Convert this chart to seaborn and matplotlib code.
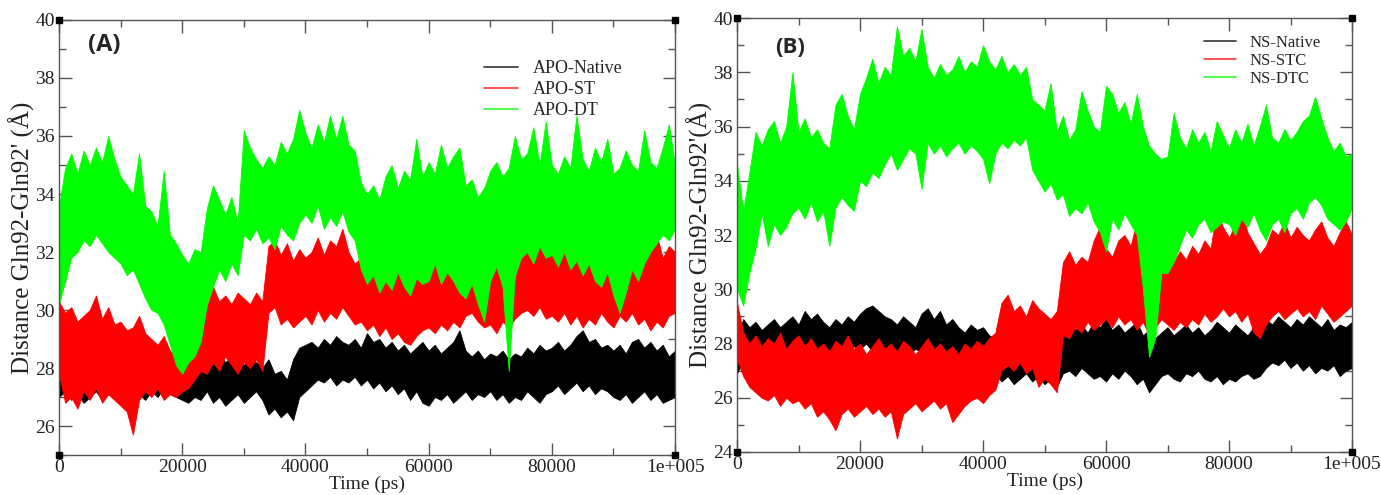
import numpy as np
import matplotlib
matplotlib.use("Agg")
import matplotlib.pyplot as plt
import seaborn as sns

# ---------------- data (1000 ps grid) ----------------
time_ps = np.arange(0, 100001, 1000)

# Panel A: upper / lower envelope of each noisy trace
apo_native_hi = [28.6, 28.2, 28.4, 28.0, 28.3, 28.1, 28.4, 28.2, 28.5, 28.3,
                 28.2, 28.4, 28.1, 28.3, 28.0, 27.9, 28.1, 27.8, 27.9, 27.7,
                 27.8, 28.0, 28.4, 28.9, 28.7, 28.3, 28.5, 28.2, 28.4, 28.3,
                 28.1, 28.4, 28.2, 28.0, 28.3, 27.8, 27.9, 27.6, 28.3, 28.7,
                 28.8, 28.9, 28.7, 29.0, 28.8, 29.1, 28.9, 28.8, 29.0, 28.7,
                 29.2, 28.9, 29.0, 28.7, 28.9, 28.6, 28.8, 28.5, 28.7, 28.9,
                 28.6, 28.8, 28.5, 28.7, 28.9, 29.3, 28.6, 28.4, 28.6, 28.3,
                 28.5, 28.4, 28.6, 28.3, 28.5, 28.4, 28.7, 28.5, 28.8, 28.6,
                 28.7, 28.9, 28.6, 28.8, 29.1, 29.3, 28.9, 29.0, 28.7, 28.8,
                 28.6, 28.8, 28.5, 28.9, 29.0, 28.7, 28.9, 28.6, 28.8, 28.4,
                 28.6]
apo_native_lo = [27.0, 27.2, 26.9, 27.1, 26.8, 27.0, 27.2, 26.9, 27.1, 27.3,
                 27.2, 27.0, 27.3, 27.1, 26.9, 27.2, 27.0, 27.3, 27.1, 27.0,
                 26.9, 26.8, 27.0, 26.9, 27.2, 26.8, 27.0, 26.7, 26.9, 27.1,
                 26.8, 27.0, 27.2, 26.9, 26.4, 26.6, 26.3, 26.5, 26.2, 27.0,
                 27.2, 27.4, 27.6, 27.5, 27.7, 27.4, 27.6, 27.5, 27.7, 27.4,
                 27.6, 27.3, 27.5, 27.2, 27.4, 27.1, 27.3, 26.9, 27.2, 26.8,
                 26.7, 27.0, 26.9, 27.1, 26.8, 27.0, 27.2, 26.9, 27.1, 27.0,
                 27.2, 26.9, 27.1, 26.8, 27.0, 26.9, 27.2, 27.0, 26.8, 27.1,
                 27.2, 27.4, 27.1, 27.3, 27.5, 27.2, 27.4, 27.1, 27.3, 27.2,
                 27.0, 26.9, 27.1, 26.8, 27.0, 27.2, 26.9, 27.1, 26.8, 26.9,
                 27.0]
apo_st_hi = [30.3, 29.9, 30.1, 29.6, 29.8, 30.0, 30.5, 29.7, 30.1, 29.5,
             29.6, 29.3, 29.4, 29.8, 29.2, 29.0, 28.8, 29.1, 28.6, 28.4,
             28.3, 28.7, 28.5, 29.0, 30.1, 30.8, 30.3, 30.5, 30.2, 30.6,
             30.4, 30.2, 30.6, 30.3, 32.2, 32.4, 31.9, 32.3, 31.7, 32.1,
             31.8, 32.0, 32.5, 31.9, 32.4, 32.2, 32.8, 32.0, 31.6, 31.8,
             31.7, 31.5, 31.9, 31.2, 31.6, 31.3, 31.5, 31.0, 31.4, 31.2,
             31.6, 31.9, 31.5, 31.7, 31.4, 32.1, 31.8, 32.3, 31.9, 31.6,
             31.2, 31.5, 31.0, 31.3, 31.1, 31.8, 32.0, 31.7, 32.2, 31.9,
             32.0, 31.6, 32.3, 31.8, 32.1, 31.5, 31.9, 32.2, 31.6, 31.4,
             31.3, 31.7, 31.2, 31.5, 31.9, 32.3, 32.0, 32.6, 31.8, 32.2,
             32.0]
apo_st_lo = [27.8, 26.8, 27.0, 26.6, 27.2, 26.9, 27.3, 26.8, 27.1, 26.9,
             26.7, 26.5, 25.7, 26.9, 27.2, 27.0, 27.3, 26.9, 27.1, 27.0,
             27.2, 27.3, 27.6, 27.9, 27.8, 28.2, 27.9, 28.4, 28.1, 27.8,
             28.2, 28.0, 28.3, 27.9, 29.9, 30.1, 29.5, 29.7, 29.4, 29.6,
             29.8, 29.5, 30.0, 29.6, 29.9, 29.7, 30.1, 29.8, 29.5, 29.6,
             29.3, 29.5, 29.1, 29.4, 29.0, 29.2, 28.9, 28.8, 29.1, 29.3,
             29.4, 29.2, 29.5, 29.3, 29.6, 29.4, 29.8, 29.9, 29.6, 29.4,
             29.5, 29.2, 29.6, 29.4, 29.7, 29.9, 30.0, 29.8, 30.1, 29.7,
             29.8, 29.6, 29.9, 29.5, 29.8, 29.4, 29.7, 29.5, 29.9, 29.6,
             29.4, 29.8, 29.6, 29.9, 29.5, 29.7, 29.3, 29.6, 29.4, 29.8,
             29.9]
apo_dt_hi = [33.6, 34.9, 35.4, 34.7, 35.5, 35.0, 35.6, 35.1, 36.0, 35.2,
             34.6, 34.3, 34.0, 35.4, 33.6, 33.4, 32.9, 34.8, 32.6, 32.3,
             31.9, 31.6, 32.1, 32.0, 33.5, 34.3, 33.8, 33.3, 33.9, 33.0,
             36.2, 35.6, 35.2, 34.9, 35.3, 35.0, 35.8, 35.4, 35.9, 36.9,
             36.1, 35.6, 36.4, 35.8, 36.7, 35.9, 36.7, 35.7, 35.5, 34.4,
             34.0, 34.3, 33.8, 34.6, 35.0, 34.2, 34.8, 34.5, 35.9, 34.6,
             35.1, 34.7, 35.7, 34.9, 35.3, 35.6, 34.3, 34.5, 33.9, 34.2,
             34.8, 35.1, 34.6, 34.9, 36.0, 35.2, 35.4, 36.3, 35.0, 36.5,
             35.0, 34.7, 35.3, 34.9, 36.7, 35.2, 34.8, 35.6, 35.1, 35.9,
             34.7, 34.9, 35.5, 35.0, 34.8, 36.2, 35.1, 34.9, 35.6, 36.4,
             35.0]
apo_dt_lo = [30.2, 31.0, 31.8, 32.0, 32.4, 32.2, 32.6, 32.3, 32.0, 31.8,
             31.6, 31.2, 31.4, 30.9, 30.4, 30.0, 29.9, 29.5, 28.8, 28.1,
             27.8, 28.2, 28.4, 28.9, 30.2, 30.8, 31.4, 31.0, 31.6, 31.2,
             32.6, 32.4, 32.8, 32.3, 32.5, 32.1, 32.9, 32.6, 32.4, 33.0,
             33.3, 33.0, 33.6, 32.8, 33.2, 32.9, 33.4, 32.7, 32.4, 31.4,
             30.9, 31.2, 30.6, 31.0, 30.7, 31.3, 30.8, 30.5, 31.1, 30.9,
             31.0, 31.6, 30.9, 31.3, 31.0, 30.6, 30.4, 30.9, 30.2, 29.6,
             31.0, 31.5, 30.8, 27.9, 31.2, 31.8, 32.0, 31.6, 32.2, 31.8,
             31.9, 31.5, 32.0, 31.4, 31.7, 31.2, 31.6, 31.0, 30.8, 31.3,
             30.5, 29.9, 30.6, 31.4, 31.0, 31.6, 32.0, 32.3, 32.6, 32.4,
             32.8]

# Panel B
ns_native_hi = [28.2, 28.9, 28.6, 28.8, 28.5, 28.7, 28.9, 28.6, 28.8, 29.0,
                28.7, 29.2, 28.9, 29.1, 28.8, 28.6, 28.9, 28.7, 29.0, 28.8,
                29.1, 29.3, 29.4, 29.2, 29.0, 28.9, 28.7, 29.0, 28.8, 28.6,
                29.1, 29.3, 28.9, 29.2, 28.7, 28.9, 28.6, 28.4, 28.7, 28.5,
                28.6, 28.3, 28.2, 27.9, 28.0, 27.8, 28.1, 27.9, 28.0, 28.2,
                27.9, 28.1, 27.8, 28.6, 28.9, 28.5, 28.7, 28.4, 28.8, 28.6,
                28.9, 28.5, 28.7, 28.4, 28.6, 28.8, 28.3, 28.5, 28.2, 28.4,
                28.6, 28.3, 28.5, 28.7, 28.4, 28.6, 28.3, 28.5, 28.8, 28.6,
                28.4, 28.7, 28.5, 28.3, 28.6, 28.4, 28.9, 28.7, 29.0, 28.8,
                28.6, 28.9, 28.7, 29.0, 28.8, 28.6, 28.9, 28.5, 28.7, 28.6,
                28.8]
ns_native_lo = [26.9, 27.4, 27.6, 27.5, 27.7, 27.4, 27.6, 27.5, 27.7, 27.8,
                27.6, 27.8, 27.5, 27.7, 27.9, 27.6, 27.8, 27.5, 27.7, 27.9,
                27.8, 28.0, 27.7, 27.9, 27.6, 27.8, 27.5, 27.7, 27.6, 27.8,
                27.7, 27.9, 27.6, 27.8, 27.5, 27.4, 27.6, 27.3, 27.5, 27.4,
                27.3, 27.1, 26.9, 26.6, 26.8, 26.5, 26.7, 26.9, 26.6, 26.8,
                26.5, 26.7, 26.4, 26.9, 27.0, 26.8, 27.1, 26.9, 26.7, 26.8,
                26.6, 26.9, 26.7, 27.0, 26.8, 26.5, 26.7, 26.2, 26.5, 26.8,
                26.9, 26.7, 26.6, 26.9, 26.8, 27.0, 26.7, 26.6, 26.8, 26.5,
                26.7, 26.6, 26.8, 26.9, 26.7, 26.8, 27.1, 27.3, 27.2, 27.4,
                27.1, 27.3, 27.0, 27.2, 26.9, 27.1, 27.0, 27.2, 26.8, 27.0,
                27.1]
ns_stc_hi = [29.5, 28.4, 28.0, 28.3, 27.9, 28.2, 28.0, 28.4, 27.8, 28.1,
             28.3, 27.9, 28.2, 27.8, 28.0, 27.7, 28.1, 27.9, 28.3, 27.8,
             28.0, 27.6, 27.9, 28.2, 27.8, 28.0, 27.7, 28.1, 27.9, 27.6,
             27.9, 28.2, 27.8, 28.0, 27.7, 27.9, 27.6, 28.0, 27.8, 28.1,
             27.9, 28.2, 28.4, 29.5, 29.8, 29.2, 29.4, 29.0, 29.6, 29.3,
             29.1, 28.9, 29.2, 31.0, 31.4, 30.9, 31.2, 31.0, 31.8, 32.3,
             31.5, 31.2, 31.8, 32.0, 31.6, 32.5, 31.4, 31.2, 31.0, 30.9,
             31.3, 31.0, 31.4, 31.1, 31.6, 31.3, 31.8, 31.5, 32.9, 32.3,
             31.9, 32.4, 32.9, 32.1, 31.7, 31.3, 31.6, 32.2, 32.0, 32.5,
             31.9, 32.3, 32.0, 31.8, 32.2, 32.5, 31.9, 31.6, 32.1, 32.5,
             32.0]
ns_stc_lo = [27.4, 26.8, 26.4, 26.2, 26.0, 25.9, 26.1, 25.7, 26.0, 25.8,
             25.9, 25.6, 25.8, 25.3, 25.5, 25.2, 24.8, 25.4, 25.6, 25.3,
             25.5, 25.7, 25.4, 25.6, 25.3, 25.5, 24.5, 25.4, 25.6, 25.8,
             25.5, 25.7, 25.9, 25.6, 25.8, 25.1, 25.4, 25.7, 25.9, 26.0,
             25.8, 26.1, 26.3, 27.0, 27.2, 27.0, 27.3, 26.9, 27.1, 26.4,
             26.7, 26.5, 26.2, 28.3, 28.2, 28.6, 28.4, 28.8, 28.5, 28.7,
             28.9, 28.6, 29.0, 28.7, 28.9, 28.5, 28.8, 28.3, 28.6, 28.9,
             28.7, 28.5, 28.8, 28.6, 28.9, 28.7, 29.1, 28.8, 29.0, 29.3,
             29.0, 29.2, 28.8, 29.1, 28.4, 28.2, 28.7, 29.0, 29.2, 28.9,
             29.1, 29.3, 29.0, 29.2, 28.9, 29.4, 29.1, 28.8, 29.0, 29.2,
             29.4]
ns_dtc_hi = [34.6, 32.9, 34.3, 35.8, 35.3, 35.9, 36.2, 35.4, 36.0, 38.0,
             35.8, 36.3, 35.6, 35.9, 35.4, 35.2, 36.8, 37.2, 36.4, 35.9,
             37.2, 37.8, 38.5, 37.6, 38.2, 37.9, 39.7, 38.6, 38.9, 38.4,
             39.6, 38.2, 37.8, 38.3, 37.9, 38.1, 38.6, 38.0, 38.4, 38.2,
             39.0, 38.4, 38.1, 38.6, 38.0, 38.3, 37.9, 38.2, 37.0, 36.8,
             36.6, 37.6, 35.8, 36.4, 35.5, 35.9, 37.3, 36.6, 36.0, 35.8,
             37.5, 37.2, 36.5, 36.9, 36.1, 37.2, 36.0, 35.3, 35.0, 34.8,
             34.9, 36.5, 35.6, 35.2, 35.9, 35.4, 35.8, 35.1, 36.2, 35.7,
             35.2, 35.9, 35.4, 36.1, 35.3, 36.0, 36.8, 35.6, 35.4, 35.9,
             35.5, 35.8, 36.2, 36.4, 37.1, 36.3, 35.6, 35.1, 35.4, 34.9,
             35.0]
ns_dtc_lo = [30.0, 29.4, 30.6, 31.5, 32.8, 31.6, 32.4, 32.0, 32.3, 32.8,
             33.0, 32.6, 33.2, 32.5, 32.9, 31.6, 33.0, 33.4, 33.1, 32.9,
             34.0, 33.8, 34.3, 34.1, 34.6, 35.0, 34.4, 34.8, 35.2, 35.0,
             33.7, 35.4, 35.0, 35.3, 34.9, 35.2, 35.4, 35.0, 35.3, 35.1,
             34.8, 33.9, 35.0, 35.4, 35.2, 35.5, 35.3, 35.6, 34.4, 34.0,
             33.6, 33.9, 33.3, 33.5, 32.7, 33.0, 32.8, 33.2, 32.5, 32.1,
             31.4, 32.6, 32.2, 32.8, 32.4, 32.0, 30.0, 27.5, 28.2, 30.6,
             30.6, 31.0, 31.6, 32.2, 31.9, 32.4, 32.6, 32.1, 32.3, 32.5,
             32.4, 32.0, 32.6, 32.3, 32.8, 32.2, 31.8, 32.4, 32.6, 32.1,
             32.8, 33.0, 32.6, 33.2, 33.4, 33.1, 32.6, 32.4, 32.2, 32.5,
             33.0]

labels_a = ["APO-Native", "APO-ST", "APO-DT"]
labels_b = ["NS-Native", "NS-STC", "NS-DTC"]
colors = ["#000000", "#ff0000", "#00ff00"]
xticks = [0, 20000, 40000, 60000, 80000, 100000]
xticklabels = ["0", "20000", "40000", "60000", "80000", "1e+005"]

# ---------------- style ----------------
sns.set_style("white")
plt.rcParams["font.family"] = ["Liberation Serif", "DejaVu Serif"]

fig = plt.figure(figsize=(13.81, 4.95), dpi=100)
ax_a = fig.add_axes([0.0427, 0.0808, 0.4461, 0.8788])
ax_b = fig.add_axes([0.5337, 0.0869, 0.4453, 0.8767])


def draw(ax, series, labels, ylim, ylabel, tag, leg_anchor, leg_fs, leg_sp):
    for k, ((hi, lo), lab, col) in enumerate(zip(series, labels, colors)):
        x = np.concatenate([time_ps, time_ps])
        y = np.concatenate([hi, lo])
        n_lines, n_coll = len(ax.lines), len(ax.collections)
        # band spanning the min..max of the two envelope readings at each time
        sns.lineplot(x=x, y=y, ax=ax, color=col, lw=0.6, estimator="mean",
                     errorbar=("pi", 100), err_kws={"alpha": 1.0, "lw": 0.6,
                                                     "edgecolor": col},
                     label=lab)
        for art in ax.lines[n_lines:] + list(ax.collections[n_coll:]):
            art.set_zorder(2 + k)
    ax.set_xlim(0, 100000)
    ax.set_ylim(*ylim)
    ax.set_xticks(xticks)
    ax.set_xticklabels(xticklabels)
    ax.set_xticks(np.arange(10000, 100000, 20000), minor=True)
    ax.set_yticks(np.arange(ylim[0] + (ylim[0] % 2), ylim[1] + 1, 2))
    ax.set_yticks(np.arange(ylim[0] + 1 - (ylim[0] % 2), ylim[1], 2), minor=True)
    ax.tick_params(which="both", direction="in", top=True, right=True,
                   bottom=True, left=True, color="#555555", width=1.0,
                   labelsize=14, pad=3, labelcolor="#222222")
    ax.tick_params(which="major", length=9)
    ax.tick_params(which="minor", length=5)
    for sp in ax.spines.values():
        sp.set_color("#555555")
        sp.set_linewidth(1.0)
        sp.set_zorder(20)
    ax.set_xlabel("Time (ps)", fontsize=14, labelpad=0, color="#222222")
    ax.set_ylabel(ylabel, fontsize=18, labelpad=0, color="#222222")
    ax.text(tag[1], tag[2], tag[0], transform=ax.transAxes,
            fontsize=tag[3], fontweight="bold", family="Open Sans",
            va="center", ha="left")
    ax.plot([0, 1, 0, 1], [0, 0, 1, 1], "s", color="black", ms=4,
            transform=ax.transAxes, clip_on=False, zorder=30)
    leg = ax.legend(loc="upper left", bbox_to_anchor=leg_anchor, frameon=False,
                    fontsize=leg_fs, handlelength=1.9, handletextpad=0.8,
                    labelspacing=leg_sp, borderaxespad=0, borderpad=0)
    leg.set_zorder(40)
    for h in leg.get_lines():
        h.set_linewidth(1.2)
        h.set_alpha(0.8)


draw(ax_a,
     [(apo_native_hi, apo_native_lo), (apo_st_hi, apo_st_lo), (apo_dt_hi, apo_dt_lo)],
     labels_a, (25, 40), "Distance Gln92-Gln92' (Å)", ("(A)", 0.047, 0.943, 17),
     (0.69, 0.908), 13, 0.22)
draw(ax_b,
     [(ns_native_hi, ns_native_lo), (ns_stc_hi, ns_stc_lo), (ns_dtc_hi, ns_dtc_lo)],
     labels_b, (24, 40), "Distance Gln92-Gln92'(Å)", ("(B)", 0.062, 0.933, 16),
     (0.76, 0.962), 12, 0.12)

fig.savefig("out.png", dpi=100)
